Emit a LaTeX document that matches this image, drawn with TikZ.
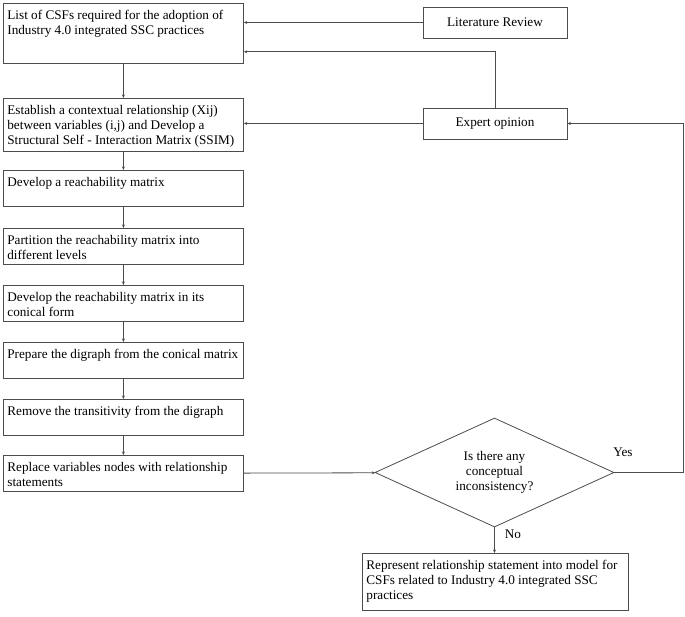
\documentclass[tikz,border=0pt]{standalone}
\usepackage{fontspec}
\setmainfont{Liberation Serif}
\usepackage{tikz}
\usetikzlibrary{shapes.geometric}
\usetikzlibrary{arrows.meta}
\usetikzlibrary{calc}

\newcommand{\boxtxt}[3]{\parbox[c][#1][t]{#2}{\raggedright #3}}

\tikzset{
	every node/.style={font=\fontsize{13.2}{15}\selectfont},
	stepbox/.style={draw=black!70, line width=0.8pt, anchor=north west, inner xsep=4pt, inner ysep=6.5pt, align=left},
	srcbox/.style={draw=black!70, line width=0.8pt, minimum width=144pt, minimum height=31pt, inner sep=0pt},
	link/.style={draw=black!70, line width=0.8pt, -{Stealth[length=3.5pt,width=3pt]}}
}

\begin{document}
\begin{tikzpicture}[x=1pt, y=-1pt]
	\useasboundingbox (0,0) rectangle (685,616);
	% left column of steps
	\node [stepbox] (list) at (3,3) {\boxtxt{47pt}{232pt}{List of CSFs required for the adoption of\\Industry 4.0 integrated SSC practices}};
	\node [stepbox] (ssim) at (3,98) {\boxtxt{40pt}{232pt}{Establish a contextual relationship (Xij)\\between variables (i,j) and Develop a\\Structural Self - Interaction Matrix (SSIM)}};
	\node [stepbox] (reach) at (3,170) {\boxtxt{23pt}{232pt}{Develop a reachability matrix}};
	\node [stepbox] (part) at (3,228) {\boxtxt{23pt}{232pt}{Partition the reachability matrix into\\different levels}};
	\node [stepbox] (conic) at (3,285) {\boxtxt{23pt}{232pt}{Develop the reachability matrix in its\\conical form}};
	\node [stepbox] (digraph) at (3,342) {\boxtxt{23pt}{232pt}{\mbox{Prepare the digraph from the conical matrix}}};
	\node [stepbox] (trans) at (3,399) {\boxtxt{23pt}{232pt}{Remove the transitivity from the digraph}};
	\node [stepbox] (replace) at (3,455) {\boxtxt{23pt}{232pt}{Replace variables nodes with relationship\\statements}};
	% inputs
	\node [srcbox] (lit) at (495,22.5) {Literature Review};
	\node [srcbox] (expert) at (495,123.5) {Expert opinion};
	% decision and result
	\node [diamond, aspect=2.2, draw=black!70, line width=0.8pt, minimum width=239pt, minimum height=109pt, inner sep=0pt, align=center] (check) at (494.5,472.5) {Is there any\\conceptual\\inconsistency?};
	\node [stepbox] (model) at (362,553) {\boxtxt{44pt}{258pt}{Represent relationship statement into model for\\CSFs related to Industry 4.0 integrated SSC\\practices}};
	\node (yes) at (623,452) {Yes};
	\node (no) at (513,534) {No};

	\draw [link] (lit) -- (lit -| list.east);
	\draw [link] (expert.north) |- ([yshift=12pt]list.south east);
	\draw [link] (expert) -- (expert -| ssim.east);
	\draw [link] (list) -- (ssim);
	\draw [link] (ssim) -- (reach);
	\draw [link] (reach) -- (part);
	\draw [link] (part) -- (conic);
	\draw [link] (conic) -- (digraph);
	\draw [link] (digraph) -- (trans);
	\draw [link] (trans) -- (replace);
	\draw [link] (replace) -- (check);
	\draw [link] (check.east) -- ++(69,0) |- (expert.east);
	\draw [link] (check.south) -- (check.south |- model.north);
\end{tikzpicture}
\end{document}
